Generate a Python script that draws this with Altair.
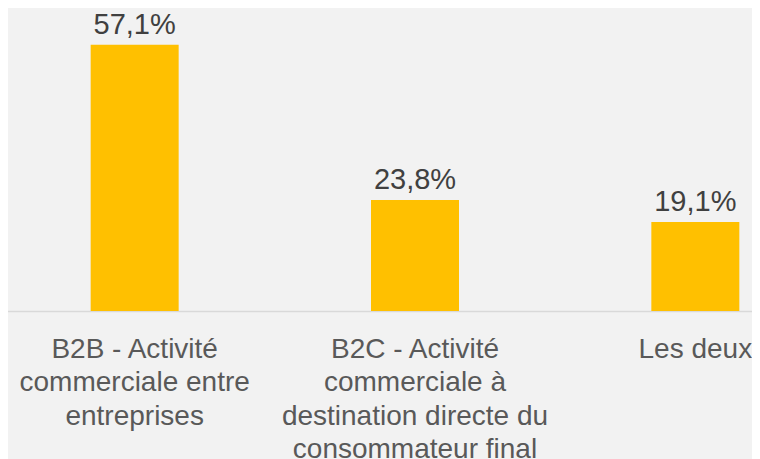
import altair as alt
import pandas as pd

categories = [
    "B2B - Activité|commerciale entre|entreprises",
    "B2C - Activité|commerciale à|destination directe du|consommateur final",
    "Les deux",
]
values = [57.1, 23.8, 19.1]

df = pd.DataFrame({"cat": categories, "value": values})

base = alt.Chart(df).encode(
    x=alt.X(
        "cat:N",
        sort=None,
        title=None,
        scale=alt.Scale(range=[-13.5, 827.5], paddingInner=0, paddingOuter=0),
        axis=alt.Axis(
            labelExpr="split(datum.label, '|')",
            labelAngle=0,
            labelFont="Liberation Sans",
            labelFontSize=28,
            labelLineHeight=33.5,
            labelColor="#595959",
            labelPadding=24,
            labelLimit=600,
            labelOverlap=False,
            labelBound=False,
            ticks=False,
            domainColor="#d9d9d9",
            domainWidth=1.5,
            grid=False,
        ),
    ),
    y=alt.Y("value:Q", scale=alt.Scale(domain=[0, 65], nice=False, zero=True), axis=None),
)

bars = base.mark_bar(color="#FFC000", size=88)

labels = base.mark_text(
    baseline="alphabetic",
    dy=-11,
    font="Liberation Sans",
    fontSize=29,
    color="#404040",
).encode(text="label:N").transform_calculate(
    label="replace(format(datum.value, '.1f'), '.', ',') + '%'"
)

chart = (
    alt.layer(bars, labels)
    .properties(
        width=744,
        height=303,
        autosize=alt.AutoSizeParams(type="none"),
        padding={"left": 0, "top": 0, "right": 0, "bottom": 148},
        background="#f2f2f2",
    )
    .configure_view(stroke=None)
)

chart.save("out.html", embed_options={"renderer": "svg", "actions": False})
